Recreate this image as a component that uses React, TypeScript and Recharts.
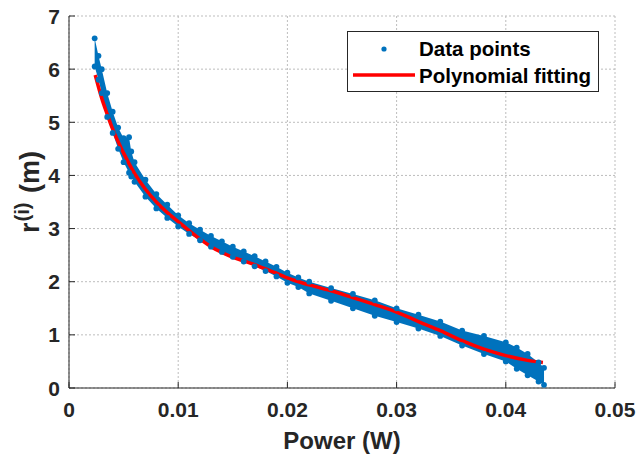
import React from "react";
import { ComposedChart, Area, Line, Scatter, XAxis, YAxis, CartesianGrid, Label } from "recharts";

const xTicks = [0, 0.01, 0.02, 0.03, 0.04, 0.05];
const yTicks = [0, 1, 2, 3, 4, 5, 6, 7];

// measured band of the data points: x, lower edge, upper edge
const bandX = [0.00235, 0.0027, 0.003, 0.0035, 0.004, 0.0045, 0.005, 0.0055, 0.0057, 0.006, 0.007, 0.008, 0.009, 0.01, 0.011, 0.012, 0.013, 0.014, 0.015, 0.016, 0.017, 0.018, 0.019, 0.02, 0.021, 0.022, 0.024, 0.026, 0.028, 0.03, 0.032, 0.034, 0.036, 0.038, 0.04, 0.041, 0.042, 0.043, 0.0435];
const bandLow = [6.05, 5.8, 5.55, 5.1, 4.8, 4.5, 4.25, 4.05, 3.98, 3.88, 3.6, 3.38, 3.2, 3.04, 2.9, 2.78, 2.66, 2.56, 2.47, 2.38, 2.29, 2.2, 2.1, 1.98, 1.9, 1.78, 1.64, 1.5, 1.36, 1.24, 1.12, 0.98, 0.8, 0.64, 0.5, 0.36, 0.24, 0.12, 0.06];
const bandHigh = [6.58, 6.25, 6.0, 5.55, 5.2, 4.9, 4.7, 4.72, 4.45, 4.25, 3.92, 3.65, 3.45, 3.25, 3.1, 2.98, 2.86, 2.76, 2.66, 2.57, 2.48, 2.38, 2.28, 2.17, 2.08, 2.0, 1.88, 1.77, 1.65, 1.5, 1.38, 1.25, 1.08, 0.98, 0.86, 0.76, 0.64, 0.48, 0.38];

const fitX = [0.0024, 0.003, 0.0035, 0.004, 0.005, 0.006, 0.007, 0.008, 0.009, 0.01, 0.011, 0.012, 0.013, 0.014, 0.015, 0.016, 0.017, 0.018, 0.019, 0.02, 0.022, 0.024, 0.026, 0.028, 0.03, 0.032, 0.034, 0.036, 0.038, 0.04, 0.042, 0.0434];
const fitY = [5.89, 5.45, 5.15, 4.87, 4.42, 4.04, 3.74, 3.5, 3.3, 3.13, 2.96, 2.8, 2.66, 2.55, 2.46, 2.39, 2.32, 2.24, 2.16, 2.07, 1.94, 1.83, 1.7, 1.57, 1.43, 1.25, 1.08, 0.89, 0.73, 0.61, 0.52, 0.48];

const legendLabels = ["Data points", "Polynomial fitting"];

const BLUE = "#0072BD";
const RED = "#FF0000";
const AXIS = "#262626";
const FONT = "'Liberation Sans', Arial, sans-serif";

const bandData = bandX.map((x, i) => ({ x, band: [bandLow[i], bandHigh[i]] }));
const lowPoints = bandX.map((x, i) => ({ x, y: bandLow[i] }));
const highPoints = bandX.map((x, i) => ({ x, y: bandHigh[i] }));
const fitData = fitX.map((x, i) => ({ x, fit: fitY[i] }));

const Dot = (p: any) => <circle cx={p.cx} cy={p.cy} r={2.9} fill={BLUE} />;

const BottomTick = ({ x, y, payload }: any) => (
  <g>
    <line x1={x} x2={x} y1={y} y2={y - 6} stroke={AXIS} />
    <text x={x} y={y + 29} textAnchor="middle" fontFamily={FONT} fontWeight="bold" fontSize={21} fill={AXIS}>
      {payload.value}
    </text>
  </g>
);
const TopTick = ({ x, y }: any) => <line x1={x} x2={x} y1={y} y2={y + 6} stroke={AXIS} />;
const LeftTick = ({ x, y, payload }: any) => (
  <g>
    <line x1={x} x2={x + 6} y1={y} y2={y} stroke={AXIS} />
    <text x={x - 9} y={y + 7.5} textAnchor="end" fontFamily={FONT} fontWeight="bold" fontSize={21} fill={AXIS}>
      {payload.value}
    </text>
  </g>
);
const RightTick = ({ x, y }: any) => <line x1={x} x2={x - 6} y1={y} y2={y} stroke={AXIS} />;

const LegendBox = () => (
  <svg width={252} height={61} style={{ position: "absolute", left: 347, top: 31 }}>
    <rect x={0.5} y={0.5} width={251} height={60} fill="#fff" stroke={AXIS} />
    <circle cx={37} cy={18} r={2.6} fill={BLUE} />
    <text x={72} y={25} fontFamily={FONT} fontWeight="bold" fontSize={20.5} fill="#000">{legendLabels[0]}</text>
    <line x1={6} x2={68} y1={44} y2={44} stroke={RED} strokeWidth={3.5} />
    <text x={72} y={52} fontFamily={FONT} fontWeight="bold" fontSize={20.5} fill="#000">{legendLabels[1]}</text>
  </svg>
);

export default function App() {
  return (
    <div style={{ position: "fixed", left: 0, top: 0, width: 639, height: 459, background: "#fff" }}>
      <ComposedChart width={639} height={459} margin={{ top: 16, right: 24, bottom: 0, left: 0 }}>
        <CartesianGrid stroke="#bdbdbd" strokeDasharray="2 2" />
        <XAxis dataKey="x" type="number" domain={[0, 0.05]} ticks={xTicks} allowDataOverflow height={71}
          tickSize={0} tickMargin={0} tick={<BottomTick />} tickLine={false} axisLine={{ stroke: AXIS }}>
          <Label content={() => (
            <text x={342} y={449} textAnchor="middle" fontFamily={FONT} fontWeight="bold" fontSize={24} fill={AXIS}>Power (W)</text>
          )} />
        </XAxis>
        <XAxis xAxisId="top" orientation="top" dataKey="x" type="number" domain={[0, 0.05]} ticks={xTicks} allowDataOverflow height={0}
          tickSize={0} tickMargin={0} tick={<TopTick />} tickLine={false} axisLine={{ stroke: AXIS }} />
        <YAxis type="number" domain={[0, 7]} ticks={yTicks} allowDataOverflow width={69}
          tickSize={0} tickMargin={0} tick={<LeftTick />} tickLine={false} axisLine={{ stroke: AXIS }}>
          <Label content={() => (
            <text transform="translate(39, 233) rotate(-90)" fontFamily={FONT} fontWeight="bold" fontSize={27} fill={AXIS}>
              r<tspan dx={1} dy={-10} fontSize={20}>(i)</tspan><tspan dx={2} dy={10}> (m)</tspan>
            </text>
          )} />
        </YAxis>
        <YAxis yAxisId="right" orientation="right" type="number" domain={[0, 7]} ticks={yTicks} allowDataOverflow width={0}
          tickSize={0} tickMargin={0} tick={<RightTick />} tickLine={false} axisLine={{ stroke: AXIS }} />
        <Area data={bandData} dataKey="band" type="linear" stroke="none" fill={BLUE} fillOpacity={1} isAnimationActive={false} />
        <Scatter data={lowPoints} dataKey="y" name={legendLabels[0]} shape={<Dot />} isAnimationActive={false} />
        <Scatter data={highPoints} dataKey="y" shape={<Dot />} isAnimationActive={false} />
        <Line data={fitData} dataKey="fit" name={legendLabels[1]} type="monotone" stroke={RED} strokeWidth={3.5} dot={false} isAnimationActive={false} />
      </ComposedChart>
      <LegendBox />
    </div>
  );
}
